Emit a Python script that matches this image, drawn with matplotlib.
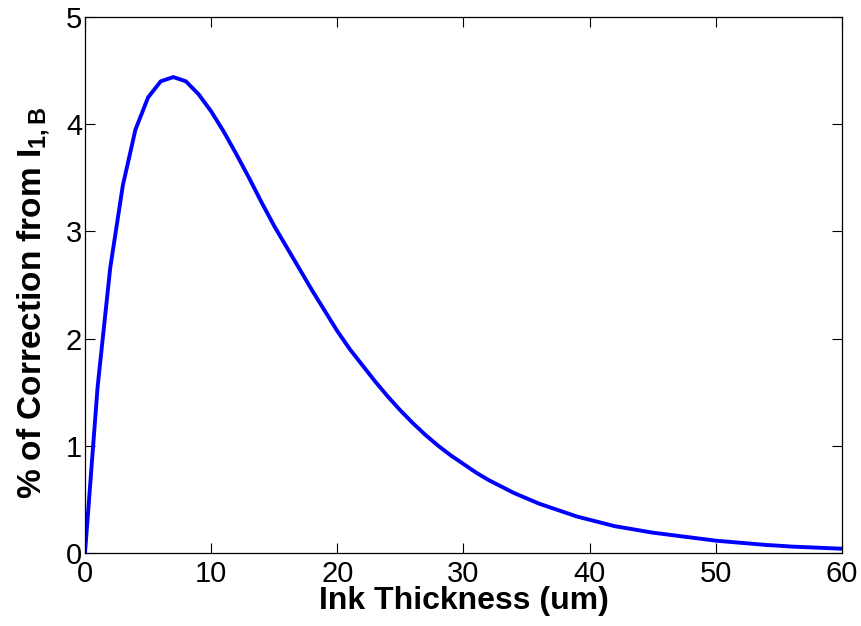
import numpy as np
import matplotlib
matplotlib.use("Agg")
import matplotlib.pyplot as plt

plt.rcParams['font.family'] = ['Liberation Sans', 'DejaVu Sans']
plt.rcParams['mathtext.fontset'] = 'custom'
plt.rcParams['mathtext.rm'] = 'Liberation Sans'
plt.rcParams['mathtext.bf'] = 'Liberation Sans:bold'

# Ink thickness (um) and % correction
thickness = list(range(0, 61))
correction = [
    0.00, 1.55, 2.66, 3.43, 3.95, 4.25, 4.40, 4.44, 4.40, 4.28,
    4.12, 3.93, 3.72, 3.50, 3.27, 3.05, 2.85, 2.65, 2.45, 2.26,
    2.07, 1.90, 1.75, 1.60, 1.46, 1.33, 1.21, 1.10, 1.00, 0.91,
    0.83, 0.75, 0.68, 0.62, 0.56, 0.51, 0.46, 0.42, 0.38, 0.34,
    0.31, 0.28, 0.25, 0.23, 0.21, 0.19, 0.175, 0.16, 0.145, 0.13,
    0.115, 0.105, 0.095, 0.085, 0.075, 0.068, 0.06, 0.055, 0.05, 0.045,
    0.04,
]
x_ticks = [0, 10, 20, 30, 40, 50, 60]
y_ticks = [0, 1, 2, 3, 4, 5]

fig = plt.figure(figsize=(8.62, 6.26), dpi=100)
ax = fig.add_axes([0.0986, 0.1166, 0.8782, 0.8562])

ax.plot(thickness, correction, color='#0000ff', linewidth=2.8)

ax.set_xlim(0, 60)
ax.set_ylim(0, 5)
ax.set_xticks(x_ticks)
ax.set_yticks(y_ticks)
ax.tick_params(direction='in', length=7, width=0.8, labelsize=21,
               top=True, right=True)
ax.tick_params(axis='x', pad=5)
ax.tick_params(axis='y', pad=2)
for s in ax.spines.values():
    s.set_linewidth(0.9)

ax.set_xlabel("Ink Thickness (um)", fontsize=23, fontweight='bold')
ax.set_ylabel(r"% of Correction from I$_{\mathbf{1,B}}$", fontsize=24,
              fontweight='bold')
ax.xaxis.set_label_coords(0.5, -0.062)
ax.yaxis.set_label_coords(-0.042, 0.468)

fig.savefig("out.png", dpi=100)
